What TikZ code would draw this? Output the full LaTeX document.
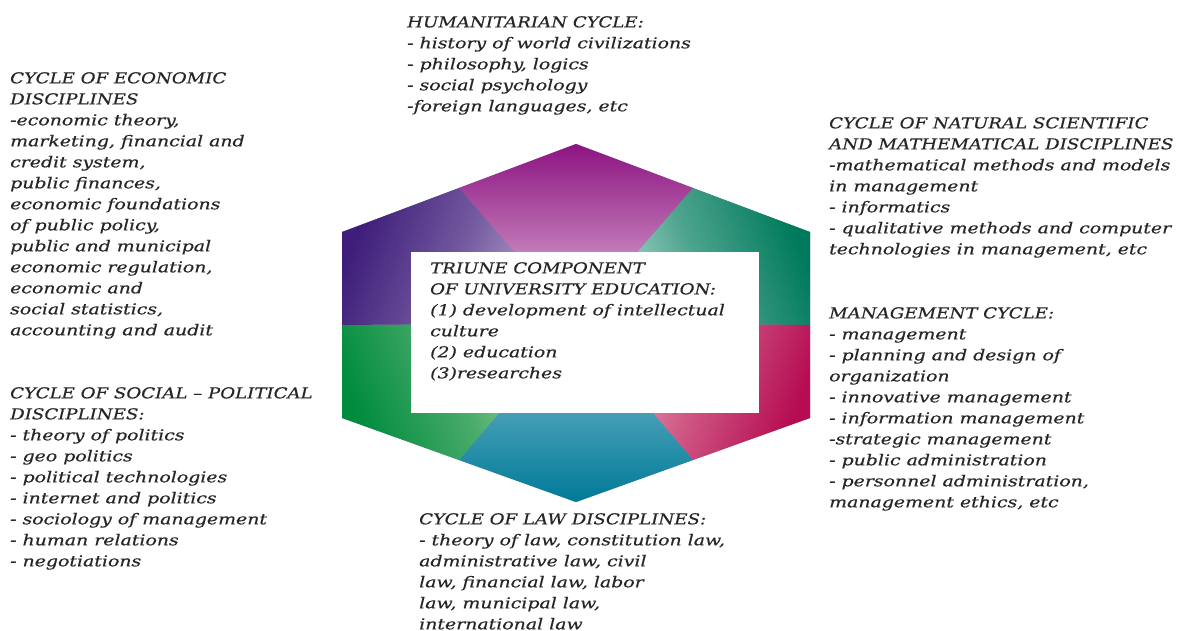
\documentclass[tikz,border=0pt]{standalone}
\usepackage{fontspec}
\usetikzlibrary{calc}
\setmainfont{DejaVu Serif}[ItalicFeatures={FakeStretch=1.26,FakeBold=0.4}]
\newfontfamily\hdfam{DejaVu Serif}[ItalicFeatures={FakeStretch=1.21,FakeBold=0.4}]
\newcommand{\hd}[1]{{\hdfam\itshape #1}}
\begin{document}
\begin{tikzpicture}[x=1pt,y=-1pt,
  txt/.style={anchor=north west,inner sep=0pt,align=left,text=black!85,
    font={\fontsize{15}{21}\selectfont\itshape}}]
\useasboundingbox[fill=white] (0,0) rectangle (1184,631);
\definecolor{topD}{RGB}{140,20,130}\definecolor{topL}{RGB}{238,205,228}
\definecolor{urD}{RGB}{0,122,92}\definecolor{urL}{RGB}{195,228,218}
\definecolor{ulD}{RGB}{62,30,122}\definecolor{ulL}{RGB}{195,178,215}
\definecolor{llD}{RGB}{0,140,62}\definecolor{llL}{RGB}{185,218,175}
\definecolor{bD}{RGB}{0,122,152}\definecolor{bL}{RGB}{175,212,228}
\definecolor{lrD}{RGB}{182,12,82}\definecolor{lrL}{RGB}{238,185,196}
\definecolor{under}{RGB}{130,130,150}
% hexagon geometry
\coordinate (C) at (576,323);
\coordinate (T) at (576,144);
\coordinate (UR) at (810,232);
\coordinate (LR) at (810,418);
\coordinate (B) at (576,502);
\coordinate (LL) at (342,418);
\coordinate (UL) at (342,232);
\coordinate (mTR) at ($(T)!0.5!(UR)$);
\coordinate (mR) at ($(UR)!0.5!(LR)$);
\coordinate (mBR) at ($(LR)!0.5!(B)$);
\coordinate (mBL) at ($(B)!0.5!(LL)$);
\coordinate (mL) at ($(LL)!0.5!(UL)$);
\coordinate (mTL) at ($(UL)!0.5!(T)$);
\fill[under] (T)--(UR)--(LR)--(B)--(LL)--(UL)--cycle;
\shade[top color=topD,bottom color=topL,middle color=topD!55!topL] (C)--(mTL)--(T)--(mTR)--cycle;
\shade[top color=urD,bottom color=urL,middle color=urD!60!urL,shading angle=-69] (C)--(mTR)--(UR)--(mR)--cycle;
\shade[top color=lrD,bottom color=lrL,middle color=lrD!55!lrL,shading angle=-111] (C)--(mR)--(LR)--(mBR)--cycle;
\shade[top color=bD,bottom color=bL,middle color=bD!60!bL,shading angle=180] (C)--(mBR)--(B)--(mBL)--cycle;
\shade[top color=llD,bottom color=llL,middle color=llD!60!llL,shading angle=111] (C)--(mBL)--(LL)--(mL)--cycle;
\shade[top color=ulD,bottom color=ulL,middle color=ulD!60!ulL,shading angle=69] (C)--(mL)--(UL)--(mTL)--cycle;
% central box
\fill[white] (411,252) rectangle (759,413);
\node[txt] (triune) at (430,262) {\hd{TRIUNE COMPONENT}\\\hd{OF UNIVERSITY EDUCATION:}\\(1) development of intellectual\\culture\\(2) education\\(3)researches};
\node[txt] (hum) at (407,16) {\hd{HUMANITARIAN CYCLE:}\\- history of world civilizations\\- philosophy, logics\\- social psychology\\-foreign languages, etc};
\node[txt] (eco) at (10,72) {\hd{CYCLE OF ECONOMIC}\\\hd{DISCIPLINES}\\-economic theory,\\marketing, financial and\\credit system,\\public finances,\\economic foundations\\of public policy,\\public and municipal\\economic regulation,\\economic and\\social statistics,\\accounting and audit};
\node[txt] (soc) at (10,387) {\hd{CYCLE OF SOCIAL – POLITICAL}\\\hd{DISCIPLINES:}\\- theory of politics\\- geo politics\\- political technologies\\- internet and politics\\- sociology of management\\- human relations\\- negotiations};
\node[txt] (nat) at (829,117) {\hd{CYCLE OF NATURAL SCIENTIFIC}\\\hd{AND MATHEMATICAL DISCIPLINES}\\-mathematical methods and models\\in management\\- informatics\\- qualitative methods and computer\\technologies in management, etc};
\node[txt] (man) at (829,307) {\hd{MANAGEMENT CYCLE:}\\- management\\- planning and design of\\organization\\- innovative management\\- information management\\-strategic management\\- public administration\\- personnel administration,\\management ethics, etc};
\node[txt] (law) at (419,513) {\hd{CYCLE OF LAW DISCIPLINES:}\\- theory of law, constitution law,\\administrative law, civil\\law, financial law, labor\\law, municipal law,\\international law};
\end{tikzpicture}
\end{document}
